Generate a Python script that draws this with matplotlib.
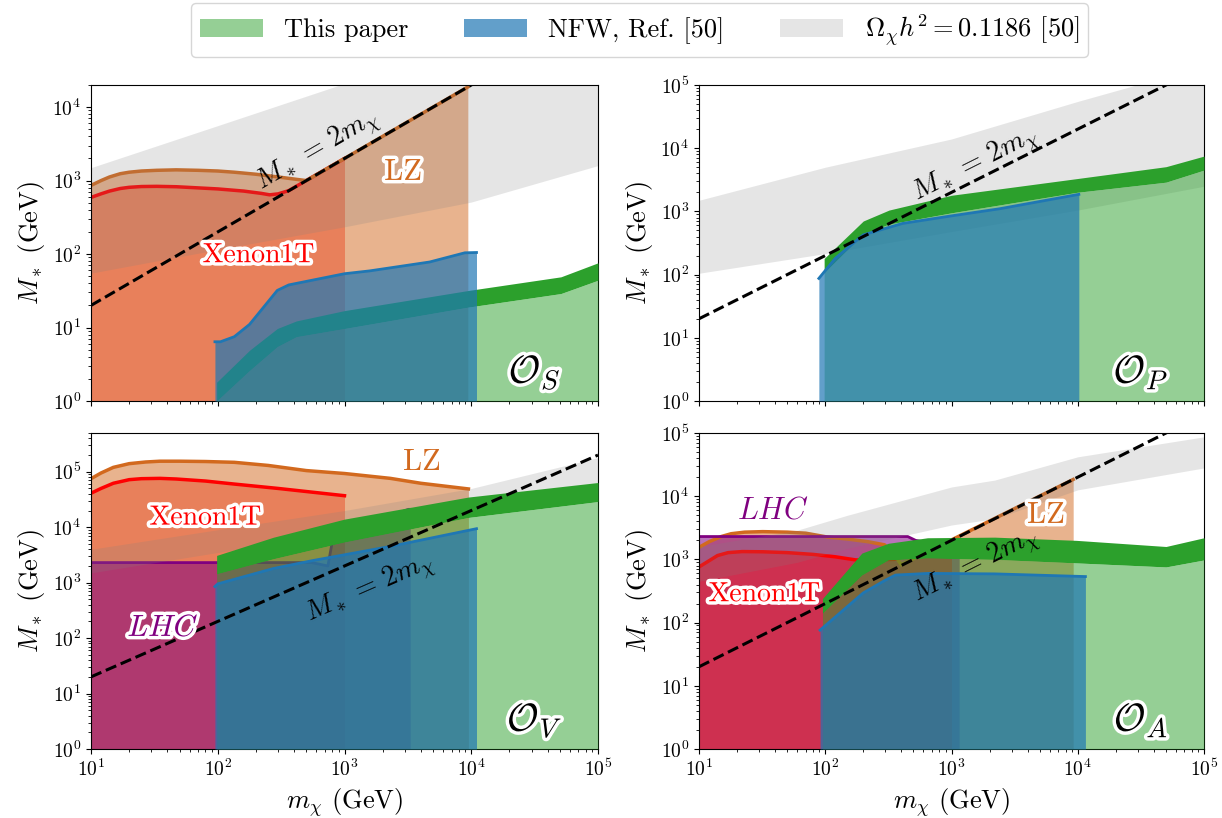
import numpy as np
import matplotlib
matplotlib.use("Agg")
import matplotlib.pyplot as plt
import matplotlib.patheffects as pe
from matplotlib.patches import Patch

plt.rcParams["font.family"] = "serif"
plt.rcParams["font.serif"] = ["cmr10"]
plt.rcParams["mathtext.fontset"] = "cm"
plt.rcParams["axes.formatter.use_mathtext"] = True

# ---- O_S -------------------------------------------------------------
os_gray_x = [10, 100, 1000, 10000, 100000]
os_gray_lo = [55, 115, 235, 510, 1600]
os_gray_hi = [1500, 5600, 21000, 80000, 300000]
os_lz_x = [10, 12, 14, 17, 20, 25, 33, 47, 70, 100, 135, 200, 300, 400, 500, 9400]
os_lz_y = [860, 1000, 1120, 1240, 1300, 1350, 1380, 1400, 1380, 1350, 1300,
           1220, 1120, 1050, 1000, 18800]
os_xe_x = [10, 12, 14, 17, 20, 25, 33, 47, 66, 100, 160, 220, 257, 300, 363, 1000]
os_xe_y = [590, 660, 720, 780, 810, 830, 835, 825, 800, 770, 720, 670, 640,
           660, 730, 2000]
os_bl_x = [95, 105, 135, 178, 295, 363, 1000, 1580, 4700, 8900, 11000]
os_bl_y = [6.4, 6.4, 7.5, 11, 32, 38, 54, 59, 78, 104, 105]
os_gr_x = [98, 178, 295, 417, 1000, 9550, 51000, 100000]
os_gr_hi = [1.8, 4.9, 9.7, 12.3, 17, 32, 49, 76]
os_gr_lo = [1.0, 2.6, 5.5, 7.5, 9.7, 19, 29, 44]

# ---- O_P -------------------------------------------------------------
op_gray_x = [10, 100, 1000, 10000, 100000]
op_gray_lo = [105, 215, 480, 1050, 2500]
op_gray_hi = [1500, 5000, 14000, 55000, 200000]
op_bl_x = [89, 120, 200, 410, 1000, 2400, 10200]
op_bl_y = [87, 181, 425, 645, 850, 1100, 1860]
op_gr_x = [98, 200, 320, 1000, 9800, 50000, 100000]
op_gr_hi = [180, 705, 1050, 1800, 3300, 5100, 7500]
op_gr_lo = [107, 440, 630, 950, 2000, 2900, 4500]

# ---- O_V -------------------------------------------------------------
ov_gray_x = [10, 100, 1000, 10000, 100000]
ov_gray_lo = [1500, 3500, 8000, 23000, 60000]
ov_gray_hi = [4000, 9000, 20000, 50000, 180000]
ov_lz_x = [10, 12, 15, 20, 27, 35, 50, 80, 135, 250, 500, 1000, 2300, 4000, 9500]
ov_lz_y = [75000, 95000, 120000, 140000, 150000, 155000, 155000, 153000,
           148000, 130000, 105000, 93000, 76000, 62000, 49000]
ov_xe_x = [10, 12, 15, 20, 25, 35, 47, 80, 135, 300, 1000]
ov_xe_y = [41000, 50000, 62000, 72000, 75000, 76000, 74000, 68000, 60000,
           50000, 37000]
ov_lhc_x = [10, 550, 740, 800, 870, 3200, 3300]
ov_lhc_y = [2300, 2300, 2000, 5400, 7000, 21000, 21000]
ov_bl_x = [95, 100, 275, 560, 2300, 11000]
ov_bl_y = [850, 950, 1800, 2500, 4500, 9400]
ov_gr_x = [98, 275, 1000, 9500, 100000]
ov_gr_hi = [3100, 6600, 14000, 35000, 64000]
ov_gr_lo = [1440, 2700, 5400, 15000, 29000]

# ---- O_A -------------------------------------------------------------
oa_gray_x = [10, 60, 150, 1000, 2200, 10000, 100000]
oa_gray_lo = [450, 900, 1500, 3500, 4400, 12600, 28000]
oa_gray_hi = [1600, 2900, 5000, 14000, 18000, 42000, 87000]
oa_lz_x = [10, 12, 15, 18, 23, 32, 50, 70, 105, 150, 220, 295, 350, 400, 9200]
oa_lz_y = [1550, 1900, 2300, 2550, 2700, 2750, 2700, 2600, 2250, 2100, 1900,
           1700, 1200, 820, 18400]
oa_xe_x = [10, 12, 14, 17, 22, 32, 50, 80, 120, 175, 350, 1000]
oa_xe_y = [760, 950, 1150, 1280, 1330, 1320, 1280, 1200, 1100, 980, 1000, 2000]
oa_lhc_x = [10, 450, 520, 1150]
oa_lhc_y = [2300, 2300, 2000, 1500]
oa_bl_x = [91, 200, 300, 360, 650, 2200, 11500]
oa_bl_y = [76, 295, 470, 565, 600, 590, 535]
oa_gr_x = [95, 195, 316, 646, 2200, 9800, 50000, 100000]
oa_gr_hi = [240, 1260, 1800, 2200, 2250, 2000, 1600, 2200]
oa_gr_lo = [140, 565, 980, 1050, 1000, 880, 760, 980]

legend_labels = ["This paper", "NFW, Ref. [50]", r"$\Omega_\chi h^2 = 0.1186$ [50]"]

C_GREEN = "tab:green"
C_BLUE = "tab:blue"
C_LZ = "chocolate"
C_XE = "red"
C_LHC = "purple"
halo = [pe.withStroke(linewidth=5, foreground="white")]

fig = plt.figure(figsize=(12.22, 8.18), dpi=100)
W, H = 1222, 818
def box(l, r, t, b):
    return [l / W, 1 - b / H, (r - l) / W, (b - t) / H]
ax_s = fig.add_axes(box(91, 598, 85, 401))
ax_p = fig.add_axes(box(699, 1204, 85, 401))
ax_v = fig.add_axes(box(91, 598, 433, 749))
ax_a = fig.add_axes(box(699, 1204, 433, 749))


def setup(ax, ytop, bottom_labels):
    ax.set_xscale("log")
    ax.set_yscale("log")
    ax.set_xlim(10, 1e5)
    ax.set_ylim(1, ytop)
    ax.tick_params(labelsize=14)
    ax.set_ylabel(r"$M_*$ (GeV)", fontsize=19)
    if bottom_labels:
        ax.set_xlabel(r"$m_\chi$ (GeV)", fontsize=19)
    else:
        ax.tick_params(labelbottom=False)


def region(ax, x, y, color, alpha, z, edge=True, lw=2.5):
    ax.fill_between(x, 1, y, color=color, alpha=alpha, lw=0, zorder=z)
    if edge:
        ax.plot(x, y, color=color, lw=lw, zorder=1.5 + z / 10)


def common(ax, gx, glo, ghi, grx, grlo, grhi, bx, by):
    ax.fill_between(gx, glo, ghi, color="0.5", alpha=0.2, lw=0, zorder=2)
    ax.fill_between(grx, 1, grlo, color=C_GREEN, alpha=0.5, lw=0, zorder=3)
    ax.fill_between(grx, grlo, grhi, color=C_GREEN, lw=0, zorder=3.1)
    ax.fill_between(bx, 1, by, color=C_BLUE, alpha=0.7, lw=0, zorder=4)
    ax.plot(bx, by, color=C_BLUE, lw=2, zorder=4.1)
    xd = np.array([10, 1e5])
    ax.plot(xd, 2 * xd, "k--", lw=2.2, zorder=5)


def line_label(ax, x, y):
    p1 = ax.transData.transform((10, 20))
    p2 = ax.transData.transform((1e4, 2e4))
    ang = np.degrees(np.arctan2(p2[1] - p1[1], p2[0] - p1[0]))
    ax.text(x, y, r"$M_*\,=\,2m_\chi$", fontsize=20, rotation=ang,
            ha="center", va="center", zorder=6, rotation_mode="anchor")


def op_label(ax, s):
    ax.text(0.875, 0.09, s, transform=ax.transAxes, fontsize=28,
            ha="center", va="center", path_effects=halo, zorder=7)


# O_S
setup(ax_s, 2e4, False)
region(ax_s, os_lz_x, os_lz_y, C_LZ, 0.5, 1.0)
region(ax_s, os_xe_x, os_xe_y, C_XE, 0.4, 0.9)
common(ax_s, os_gray_x, os_gray_lo, os_gray_hi, os_gr_x, os_gr_lo, os_gr_hi,
       os_bl_x, os_bl_y)
line_label(ax_s, 620, 2500)
ax_s.text(2900, 1300, "LZ", color=C_LZ, fontsize=22, ha="center", va="center",
          path_effects=halo, zorder=6)
ax_s.text(210, 97, "Xenon1T", color=C_XE, fontsize=20, ha="center", va="center",
          path_effects=halo, zorder=6)
op_label(ax_s, r"$\mathcal{O}_S$")

# O_P
setup(ax_p, 1e5, False)
common(ax_p, op_gray_x, op_gray_lo, op_gray_hi, op_gr_x, op_gr_lo, op_gr_hi,
       op_bl_x, op_bl_y)
line_label(ax_p, 1550, 5400)
op_label(ax_p, r"$\mathcal{O}_P$")

# O_V
setup(ax_v, 5e5, True)
region(ax_v, ov_lz_x, ov_lz_y, C_LZ, 0.5, 1.0)
region(ax_v, ov_xe_x, ov_xe_y, C_XE, 0.4, 0.9)
region(ax_v, ov_lhc_x, ov_lhc_y, C_LHC, 0.55, 1.2, lw=2)
common(ax_v, ov_gray_x, ov_gray_lo, ov_gray_hi, ov_gr_x, ov_gr_lo, ov_gr_hi,
       ov_bl_x, ov_bl_y)
line_label(ax_v, 1600, 760)
ax_v.text(4100, 1.5e5, "LZ", color=C_LZ, fontsize=22, ha="center", va="center",
          zorder=6)
ax_v.text(80, 1.5e4, "Xenon1T", color=C_XE, fontsize=20, ha="center",
          va="center", path_effects=halo, zorder=6)
ax_v.text(37, 150, r"$LHC$", color=C_LHC, fontsize=22, ha="center",
          va="center", path_effects=halo, zorder=6)
op_label(ax_v, r"$\mathcal{O}_V$")

# O_A
setup(ax_a, 1e5, True)
region(ax_a, oa_lz_x, oa_lz_y, C_LZ, 0.5, 1.0)
region(ax_a, oa_lhc_x, oa_lhc_y, C_LHC, 0.55, 1.05, lw=2)
region(ax_a, oa_xe_x, oa_xe_y, C_XE, 0.4, 1.1)
common(ax_a, oa_gray_x, oa_gray_lo, oa_gray_hi, oa_gr_x, oa_gr_lo, oa_gr_hi,
       oa_bl_x, oa_bl_y)
line_label(ax_a, 1550, 760)
ax_a.text(5600, 5000, "LZ", color=C_LZ, fontsize=22, ha="center", va="center",
          path_effects=halo, zorder=6)
ax_a.text(33, 283, "Xenon1T", color=C_XE, fontsize=20, ha="center",
          va="center", path_effects=halo, zorder=6)
ax_a.text(38, 5800, r"$LHC$", color=C_LHC, fontsize=22, ha="center",
          va="center", zorder=6)
op_label(ax_a, r"$\mathcal{O}_A$")

handles = [Patch(color=C_GREEN, alpha=0.5, lw=0),
           Patch(color=C_BLUE, alpha=0.7, lw=0),
           Patch(color="0.5", alpha=0.2, lw=0)]
fig.legend(handles, legend_labels, loc="upper center", ncol=3, fontsize=19,
           bbox_to_anchor=(639.5 / W, 1 - 3 / H), borderaxespad=0,
           handlelength=2.4, columnspacing=2.1, borderpad=0.35)

fig.savefig("out.png", dpi=100)
